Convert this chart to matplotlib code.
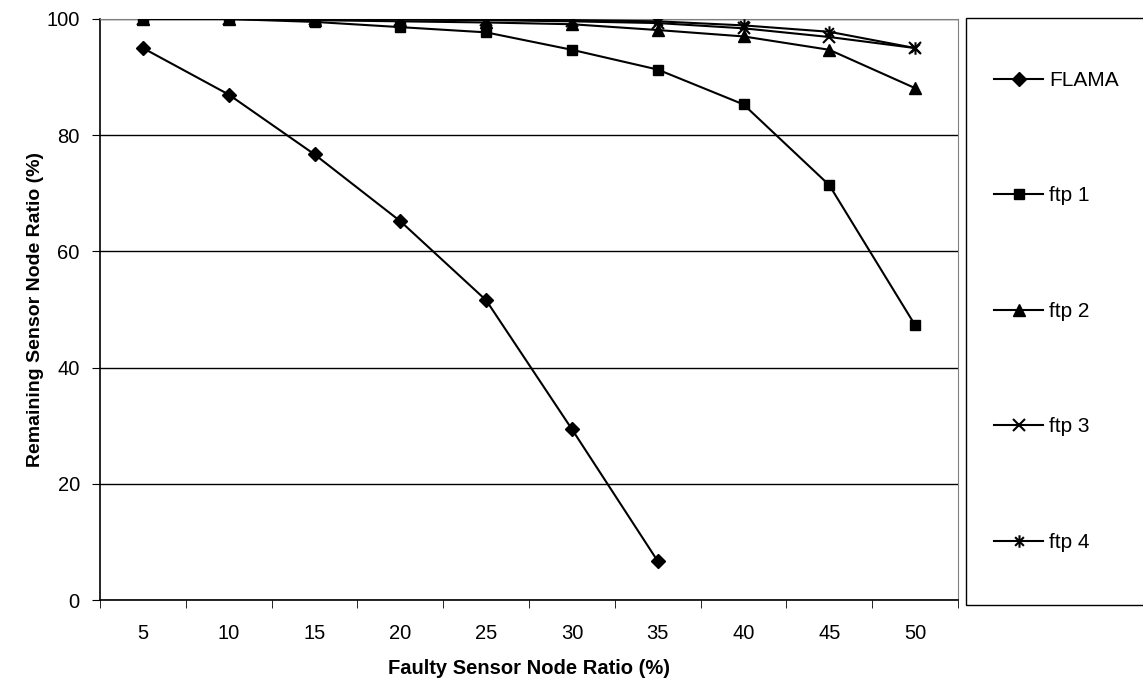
import matplotlib
matplotlib.use('Agg')
import matplotlib.pyplot as plt
from matplotlib.path import Path
from matplotlib.patches import Rectangle

plt.rcParams['font.family'] = ['Liberation Sans', 'DejaVu Sans']

# data
ratios = ['5', '10', '15', '20', '25', '30', '35', '40', '45', '50']
flama = [95.0, 87.0, 76.7, 65.2, 51.6, 29.4, 6.7]
ftp1 = [100.0, 100.0, 99.5, 98.6, 97.7, 94.7, 91.3, 85.3, 71.4, 47.3]
ftp2 = [100.0, 100.0, 99.8, 99.6, 99.4, 99.1, 98.1, 97.0, 94.7, 88.1]
ftp3 = [100.0, 100.0, 100.0, 99.9, 99.8, 99.6, 99.3, 98.4, 96.9, 95.0]
ftp4 = [100.0, 100.0, 100.0, 100.0, 99.9, 99.8, 99.6, 98.9, 97.8, 95.0]

# excel style asterisk: vertical bar plus an x
asterisk = Path([(0, -1), (0, 1), (-0.7, -0.7), (0.7, 0.7), (-0.7, 0.7), (0.7, -0.7)],
                [Path.MOVETO, Path.LINETO, Path.MOVETO, Path.LINETO, Path.MOVETO, Path.LINETO])

W, H = 1143, 686
fig = plt.figure(figsize=(W / 100, H / 100), dpi=100)
ax = fig.add_axes([100 / W, 1 - 600 / H, 858 / W, 581 / H])

x = list(range(1, len(ratios) + 1))
lw = 1.5
ax.plot(x[:len(flama)], flama, color='black', lw=lw, marker='D', ms=7.5, label='FLAMA', zorder=3)
ax.plot(x, ftp1, color='black', lw=lw, marker='s', ms=7.5, label='ftp 1', zorder=3)
ax.plot(x, ftp2, color='black', lw=lw, marker='^', ms=8.5, label='ftp 2', zorder=3)
ax.plot(x, ftp3, color='black', lw=lw, marker='x', ms=8, mew=1.5, label='ftp 3', zorder=3)
ax.plot(x, ftp4, color='black', lw=lw, marker=asterisk, ms=9, mew=1.5, label='ftp 4', zorder=3)

ax.set_xlim(0.5, len(ratios) + 0.5)
ax.set_ylim(0, 100)
ax.set_xticks(x)
ax.set_xticklabels(ratios)
ax.set_xticks([i + 0.5 for i in range(len(ratios) + 1)], minor=True)
ax.tick_params(axis='x', which='major', length=0, pad=17, labelsize=14.5)
ax.tick_params(axis='x', which='minor', length=6, direction='out', color='black')
ax.set_yticks([0, 20, 40, 60, 80, 100])
ax.tick_params(axis='y', length=6, direction='out', labelsize=14.5, pad=8.5)
ax.yaxis.grid(True, color='black', lw=1)
ax.set_axisbelow(True)

for s in ['top', 'right']:
    ax.spines[s].set_color('#808080')
for s in ['left', 'bottom']:
    ax.spines[s].set_color('black')
    ax.spines[s].set_linewidth(1.2)

ax.set_xlabel('Faulty Sensor Node Ratio (%)', fontsize=14.5, fontweight='bold', labelpad=12)
ax.set_ylabel('Remaining Sensor Node Ratio (%)', fontsize=14, fontweight='bold', labelpad=2)

# legend box (runs off the right edge like the original)
fig.patches.append(Rectangle((966 / W, 1 - 605 / H), 0.2, 587 / H, transform=fig.transFigure,
                             fill=False, edgecolor='black', lw=1))
fig.legend(loc='upper left', bbox_to_anchor=(994 / W, 1 - 71 / H), frameon=False,
           fontsize=15, labelspacing=4.63, handlelength=2.36, handletextpad=0.29,
           borderpad=0, borderaxespad=0)

fig.savefig('out.png', dpi=100)
